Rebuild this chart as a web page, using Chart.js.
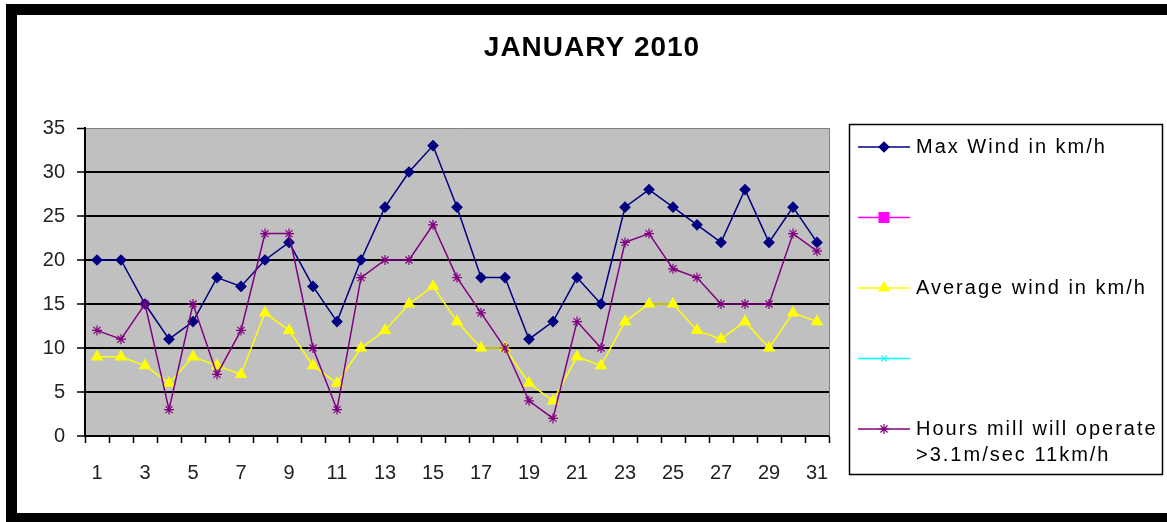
<!DOCTYPE html>
<html>
<head>
<meta charset="utf-8">
<script src="https://cdn.jsdelivr.net/npm/chart.js@4/dist/chart.umd.min.js"></script>
<style>
  html, body { margin: 0; padding: 0; background: #fff; }
  .bar { position: absolute; background: #000; }
  #wrap { position: absolute; left: 0; top: 0; width: 1167px; height: 522px; }
</style>
</head>
<body>
<div class="bar" style="left:6px;top:4px;width:1161px;height:11px;"></div>
<div class="bar" style="left:6px;top:4px;width:11px;height:518px;"></div>
<div class="bar" style="left:6px;top:513px;width:1161px;height:9px;"></div>
<div id="wrap"><canvas id="c"></canvas></div>
<script>
const chartTitle = 'JANUARY 2010';
const days = [1,2,3,4,5,6,7,8,9,10,11,12,13,14,15,16,17,18,19,20,21,22,23,24,25,26,27,28,29,30,31];
const maxWind = [20,20,15,11,13,18,17,20,22,17,13,20,26,30,33,26,18,18,11,13,18,15,26,28,26,24,22,28,22,26,22];
const pinkSeries = [];
const avgWind = [9,9,8,6,9,8,7,14,12,8,6,10,12,15,17,13,10,10,6,4,9,8,13,15,15,12,11,13,10,14,13];
const cyanSeries = [];
const hoursMill = [12,11,15,3,15,7,12,23,23,10,3,18,20,20,24,18,14,10,4,2,13,10,22,23,19,18,15,15,15,23,21];
const yTicks = [0,5,10,15,20,25,30,35];
const legendLabels = [['Max Wind in km/h'], [''], ['Average wind in km/h'], [''], ['Hours mill will operate', '>3.1m/sec 11km/h']];

const FONT = '"Liberation Sans", Arial, sans-serif';

function drawMarker(ctx, style, x, y, r, fill, stroke, lw) {
  ctx.save();
  ctx.fillStyle = fill; ctx.strokeStyle = stroke; ctx.lineWidth = lw;
  ctx.beginPath();
  if (style === 'rectRot') {
    ctx.moveTo(x - r, y); ctx.lineTo(x, y - r); ctx.lineTo(x + r, y); ctx.lineTo(x, y + r); ctx.closePath();
    ctx.fill(); ctx.stroke();
  } else if (style === 'rect') {
    const s = r * Math.SQRT1_2;
    ctx.rect(x - s, y - s, 2 * s, 2 * s); ctx.fill(); ctx.stroke();
  } else if (style === 'triangle') {
    for (let i = 0; i < 3; i++) {
      const a = i * 2 * Math.PI / 3;
      const px = x + Math.sin(a) * r, py = y - Math.cos(a) * r;
      if (i === 0) ctx.moveTo(px, py); else ctx.lineTo(px, py);
    }
    ctx.closePath(); ctx.fill(); ctx.stroke();
  } else if (style === 'crossRot' || style === 'star') {
    const d = r * Math.SQRT1_2;
    ctx.moveTo(x - d, y - d); ctx.lineTo(x + d, y + d);
    ctx.moveTo(x - d, y + d); ctx.lineTo(x + d, y - d);
    if (style === 'star') { ctx.moveTo(x, y - r); ctx.lineTo(x, y + r); ctx.moveTo(x - r, y); ctx.lineTo(x + r, y); }
    ctx.stroke();
  }
  ctx.restore();
}

const framePlugin = {
  id: 'frame',
  beforeDraw(chart) {
    const { ctx, chartArea: a } = chart;
    ctx.save();
    ctx.fillStyle = '#c0c0c0';
    ctx.fillRect(a.left, a.top, a.right - a.left, a.bottom - a.top);
    ctx.restore();
  },
  afterDraw(chart) {
    const { ctx, chartArea: a } = chart;
    ctx.save();
    // plot border right
    ctx.strokeStyle = '#808080'; ctx.lineWidth = 1;
    ctx.beginPath();
    ctx.moveTo(Math.round(a.right) + 0.5, a.top); ctx.lineTo(Math.round(a.right) + 0.5, a.bottom);
    ctx.stroke();
    // title
    ctx.fillStyle = '#000';
    ctx.font = 'bold 28px ' + FONT;
    ctx.textAlign = 'center'; ctx.textBaseline = 'middle';
    if ('letterSpacing' in ctx) ctx.letterSpacing = '1px';
    ctx.fillText(chartTitle, 592, 48);
    if ('letterSpacing' in ctx) ctx.letterSpacing = '0px';
    // legend box
    const L = 849, T = 124, R = 1163, B = 475;
    ctx.fillStyle = '#fff';
    ctx.fillRect(L, T, R - L, B - T);
    ctx.strokeStyle = '#000'; ctx.lineWidth = 1.5;
    ctx.strokeRect(L + 0.5, T + 0.5, R - L - 1, B - T - 1);
    const dsList = chart.data.datasets;
    dsList.forEach((ds, i) => {
      const y = 147 + i * 70.5;
      ctx.strokeStyle = ds.borderColor; ctx.lineWidth = 1.5;
      ctx.beginPath(); ctx.moveTo(858, y); ctx.lineTo(910, y); ctx.stroke();
      drawMarker(ctx, ds.pointStyle, 884, y, ds.pointRadius, ds.pointBackgroundColor, ds.pointBorderColor, ds.pointBorderWidth);
      ctx.fillStyle = '#000';
      ctx.font = '20px ' + FONT;
      ctx.textAlign = 'left'; ctx.textBaseline = 'middle';
      if ('letterSpacing' in ctx) ctx.letterSpacing = '2px';
      legendLabels[i].forEach((t, k) => ctx.fillText(t, 916, y + k * 26));
      if ('letterSpacing' in ctx) ctx.letterSpacing = '0px';
    });
    ctx.restore();
  }
};

function series(label, data, color, style, radius, fill, order) {
  return {
    label: label, data: data, borderColor: color, backgroundColor: fill,
    borderWidth: 1.5, pointStyle: style, pointRadius: radius,
    pointBackgroundColor: fill, pointBorderColor: color, pointBorderWidth: 1.2,
    tension: 0, order: order
  };
}

new Chart(document.getElementById('c'), {
  type: 'line',
  data: {
    labels: days,
    datasets: [
      series(legendLabels[0].join(' '), maxWind, '#000080', 'rectRot', 5, '#000080', 4),
      series('', pinkSeries, '#ff00ff', 'rect', 7, '#ff00ff', 3),
      series(legendLabels[2].join(' '), avgWind, '#ffff00', 'triangle', 6, '#ffff00', 2),
      series('', cyanSeries, '#00ffff', 'crossRot', 4, '#00ffff', 1),
      series(legendLabels[4].join(' '), hoursMill, '#800080', 'star', 5, '#800080', 0)
    ]
  },
  options: {
    responsive: true,
    maintainAspectRatio: false,
    animation: false,
    layout: { padding: { top: 128, right: 338, left: 17, bottom: 36 } },
    plugins: { legend: { display: false }, title: { display: false }, tooltip: { enabled: false } },
    scales: {
      x: {
        type: 'category',
        offset: true,
        afterFit(s) { s.height = 50; },
        grid: { offset: true, drawOnChartArea: false, drawTicks: true, tickLength: 7, tickColor: '#000', tickWidth: 1.5 },
        border: { display: true, color: '#000', width: 2 },
        ticks: {
          autoSkip: false, maxRotation: 0, padding: 18,
          color: '#222', font: { family: FONT, size: 20 },
          callback(v, i) { return i % 2 === 0 ? String(days[i]) : ''; }
        }
      },
      y: {
        min: yTicks[0], max: yTicks[yTicks.length - 1],
        afterFit(s) { s.width = 68; },
        afterBuildTicks(s) { s.ticks = yTicks.map(v => ({ value: v })); },
        grid: {
          color: c => (c.tick && c.tick.value === 35) ? '#808080' : '#000',
          lineWidth: c => (c.tick && c.tick.value === 35) ? 1 : 2,
          tickLength: 8, tickColor: '#000', tickWidth: 1.5
        },
        border: { display: true, color: '#000', width: 2 },
        ticks: { padding: 12, color: '#222', font: { family: FONT, size: 20 } }
      }
    }
  },
  plugins: [framePlugin]
});
</script>
</body>
</html>
